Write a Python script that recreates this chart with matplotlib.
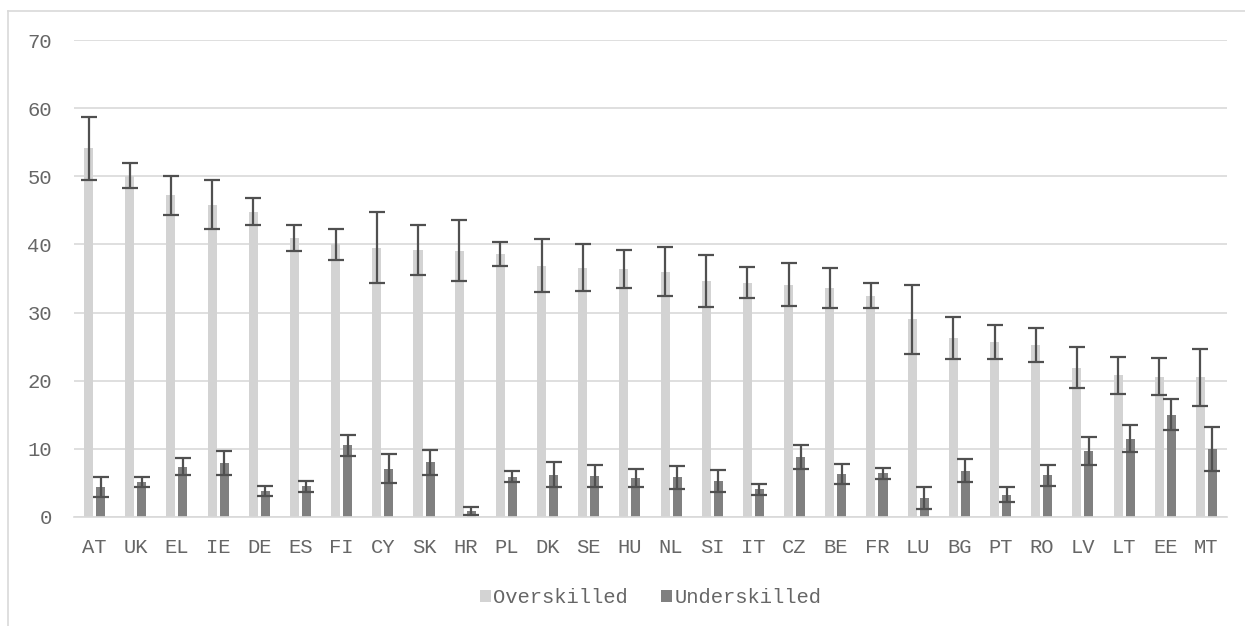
import matplotlib
matplotlib.use("Agg")
import matplotlib.pyplot as plt
import numpy as np
from matplotlib.lines import Line2D

countries = ["AT", "UK", "EL", "IE", "DE", "ES", "FI", "CY", "SK", "HR", "PL", "DK", "SE", "HU",
             "NL", "SI", "IT", "CZ", "BE", "FR", "LU", "BG", "PT", "RO", "LV", "LT", "EE", "MT"]
over = [54.1, 50.1, 47.2, 45.8, 44.8, 40.9, 40.0, 39.5, 39.2, 39.1, 38.6, 36.9, 36.6, 36.4,
        36.0, 34.6, 34.4, 34.1, 33.6, 32.5, 29.0, 26.3, 25.7, 25.2, 21.9, 20.8, 20.6, 20.5]
over_err = [4.6, 1.8, 2.9, 3.6, 2.0, 1.9, 2.3, 5.2, 3.7, 4.5, 1.7, 3.9, 3.5, 2.8,
            3.6, 3.8, 2.3, 3.2, 3.0, 1.8, 5.1, 3.1, 2.5, 2.5, 3.0, 2.7, 2.7, 4.2]
under = [4.4, 5.1, 7.4, 7.9, 3.8, 4.5, 10.5, 7.1, 8.0, 0.9, 5.9, 6.2, 6.0, 5.7,
         5.8, 5.3, 4.1, 8.8, 6.3, 6.4, 2.8, 6.8, 3.3, 6.1, 9.7, 11.5, 15.0, 10.0]
under_err = [1.5, 0.7, 1.3, 1.8, 0.7, 0.8, 1.5, 2.1, 1.8, 0.6, 0.8, 1.8, 1.6, 1.3,
             1.7, 1.6, 0.8, 1.7, 1.5, 0.8, 1.6, 1.7, 1.1, 1.5, 2.0, 2.0, 2.3, 3.2]
yticks = [0, 10, 20, 30, 40, 50, 60, 70]

plt.rcParams['font.family'] = ['Liberation Mono', 'DejaVu Sans']

fig = plt.figure(figsize=(12.45, 6.26), dpi=100)
ax = fig.add_axes([74/1245, 1-517/626, (1227-74)/1245, (517-40)/626])

x = np.arange(len(countries))
w = 0.22
off = 0.146
ekw = dict(ecolor="#505050", elinewidth=1.6, capsize=6, capthick=1.6)
ax.bar(x-off, over, w, color="#D3D3D3", yerr=over_err, error_kw=ekw, label="Overskilled", zorder=2)
ax.bar(x+off, under, w, color="#808080", yerr=under_err, error_kw=ekw, label="Underskilled", zorder=2)

ax.set_xlim(-0.5, len(countries)-0.5)
ax.set_ylim(0, 70)
ax.set_yticks(yticks)
ax.set_xticks(x)
ax.set_xticklabels(countries)
ax.yaxis.grid(True, color="#D9D9D9", linewidth=1.2, zorder=0)
ax.set_axisbelow(True)
for s in ["top", "right", "left"]:
    ax.spines[s].set_visible(False)
ax.spines["bottom"].set_color("#D9D9D9")
ax.spines["bottom"].set_linewidth(1.2)
ax.tick_params(axis="both", length=0, labelsize=14.8, labelcolor="#666666")
ax.tick_params(axis="y", pad=16)
ax.tick_params(axis="x", pad=15)

ax.legend(loc="upper center", bbox_to_anchor=(0.5, -0.11), ncol=2, frameon=False,
          fontsize=14.8, labelcolor="#666666", handlelength=0.55, handleheight=0.55,
          handletextpad=0.1, columnspacing=1.6)

# outer chart border (top and left only visible)
fig.add_artist(Line2D([8/1245, 1], [1-11/626, 1-11/626], color="#D9D9D9", linewidth=1.2))
fig.add_artist(Line2D([8/1245, 8/1245], [0, 1-11/626], color="#D9D9D9", linewidth=1.2))

fig.savefig("out.png", dpi=100)
